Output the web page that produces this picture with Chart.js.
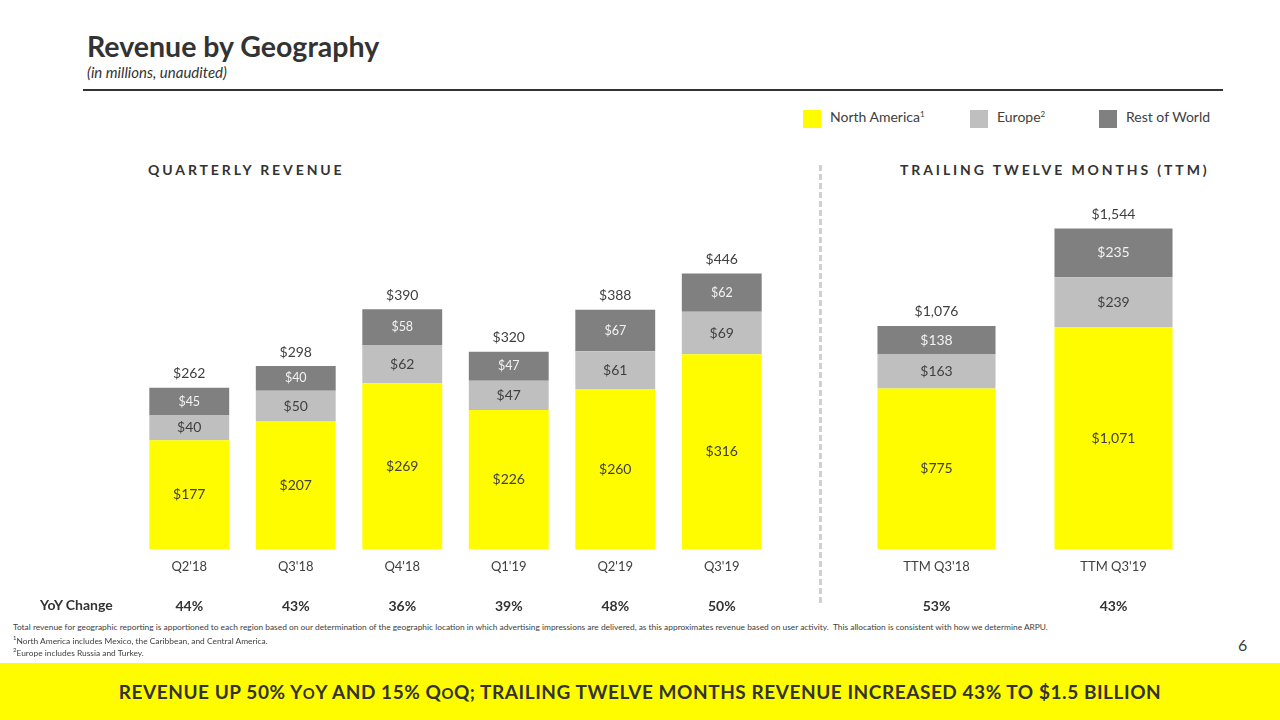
<!DOCTYPE html>
<html>
<head>
<meta charset="utf-8">
<script src="https://cdn.jsdelivr.net/npm/chart.js@4.4.0/dist/chart.umd.min.js"></script>
<style>
  body { margin: 0; width: 1280px; height: 720px; position: relative; overflow: hidden; background: #fff; font-family: Lato, "Noto Sans", sans-serif; color: #404040; }
  .abs { position: absolute; }
  #title { left: 87px; top: 29px; font-size: 28.5px; font-weight: bold; color: #333; }
  #subtitle { left: 87px; top: 63px; font-size: 15px; font-style: italic; color: #333; }
  #rule { left: 83px; top: 89px; width: 1140px; height: 2px; background: #333; }
  .sw { width: 18px; height: 18px; top: 110px; }
  .lg { top: 108px; font-size: 14px; line-height: 18px; color: #404040; }
  .lg sup { font-size: 8px; vertical-align: 5px; line-height: 0; }
  .hdr { top: 161px; font-size: 14px; font-weight: bold; letter-spacing: 2.9px; color: #333; }
  #divider { left: 819px; top: 165px; height: 438px; border-left: 3px dashed #d0d0d0; }
  #yoy { left: 40px; top: 596px; font-size: 14px; font-weight: bold; color: #333; }
  .fn { left: 13px; font-size: 8.4px; color: #404040; }
  .fn sup { font-size: 6px; }
  #page { left: 1238px; top: 635px; font-size: 16px; color: #404040; }
  #banner { left: 0; top: 663px; width: 1280px; height: 57px; background: #FFFC00; }
  #banner div { text-align: center; font-size: 19px; font-weight: bold; color: #333; line-height: 57px; letter-spacing: 0.55px; }
  .sc { font-size: 0.78em; }
  canvas { position: absolute; }
</style>
</head>
<body>
<div id="title" class="abs">Revenue by Geography</div>
<div id="subtitle" class="abs">(in millions, unaudited)</div>
<div id="rule" class="abs"></div>

<div class="abs sw" style="left:803px;background:#FFFC00"></div>
<div class="abs lg" style="left:830px">North America<sup>1</sup></div>
<div class="abs sw" style="left:970px;background:#BFBFBF"></div>
<div class="abs lg" style="left:997px">Europe<sup>2</sup></div>
<div class="abs sw" style="left:1099px;background:#808080"></div>
<div class="abs lg" style="left:1126px">Rest of World</div>

<div class="abs hdr" style="left:148px">QUARTERLY REVENUE</div>
<div class="abs hdr" style="left:900px">TRAILING TWELVE MONTHS (TTM)</div>
<div id="divider" class="abs"></div>

<div style="position:absolute;left:0;top:190px;width:800px;height:430px"><canvas id="quarterChart"></canvas></div>
<div style="position:absolute;left:830px;top:190px;width:450px;height:430px"><canvas id="ttmChart"></canvas></div>

<div id="yoy" class="abs">YoY Change</div>

<div class="abs fn" style="top:622px">Total revenue for geographic reporting is apportioned to each region based on our determination of the geographic location in which advertising impressions are delivered, as this approximates revenue based on user activity.&nbsp; This allocation is consistent with how we determine ARPU.</div>
<div class="abs fn" style="top:634px"><sup>1</sup>North America includes Mexico, the Caribbean, and Central America.</div>
<div class="abs fn" style="top:646px"><sup>2</sup>Europe includes Russia and Turkey.</div>
<div id="page" class="abs">6</div>

<div id="banner" class="abs"><div>REVENUE UP 50% Y<span class="sc">O</span>Y AND 15% Q<span class="sc">O</span>Q; TRAILING TWELVE MONTHS REVENUE INCREASED 43% TO $1.5 BILLION</div></div>

<script>
// Quarterly data
const quarters = ["Q2'18", "Q3'18", "Q4'18", "Q1'19", "Q2'19", "Q3'19"];
const naQuarter = [177, 207, 269, 226, 260, 316];
const euQuarter = [40, 50, 62, 47, 61, 69];
const rowQuarter = [45, 40, 58, 47, 67, 62];
const totalQuarter = [262, 298, 390, 320, 388, 446];
const yoyQuarter = ['44%', '43%', '36%', '39%', '48%', '50%'];

// TTM data
const ttmPeriods = ["TTM Q3'18", "TTM Q3'19"];
const naTTM = [775, 1071];
const euTTM = [163, 239];
const rowTTM = [138, 235];
const totalTTM = [1076, 1544];
const yoyTTM = ['53%', '43%'];

const FONT = 'Lato, "Noto Sans", sans-serif';
const YELLOW = '#FFFC00';
const LIGHT = '#BFBFBF';
const DARK = '#808080';

function money(v) {
    return '$' + v.toLocaleString('en-US');
}

// draws segment values, totals and the YoY row
const barLabels = {
    id: 'barLabels',
    afterDatasetsDraw(chart, args, opts) {
        const ctx = chart.ctx;
        ctx.save();
        ctx.textAlign = 'center';
        ctx.textBaseline = 'middle';
        chart.data.datasets.forEach((ds, i) => {
            const meta = chart.getDatasetMeta(i);
            meta.data.forEach((bar, j) => {
                ctx.fillStyle = ds.labelColor;
                ctx.font = ds.labelSize + 'px ' + FONT;
                ctx.fillText(money(ds.data[j]), bar.x, (bar.y + bar.base) / 2);
            });
        });
        const top = chart.getDatasetMeta(chart.data.datasets.length - 1);
        top.data.forEach((bar, j) => {
            ctx.fillStyle = '#404040';
            ctx.font = '14px ' + FONT;
            ctx.fillText(money(opts.totals[j]), bar.x, bar.y - 14);
            ctx.fillStyle = '#333';
            ctx.font = 'bold 14px ' + FONT;
            ctx.fillText(opts.yoy[j], bar.x, chart.chartArea.bottom + 57);
        });
        ctx.restore();
    }
};

function makeChart(id, labels, na, eu, row, totals, yoy, max, barPct, pad, rowSize) {
    const ctx = document.getElementById(id).getContext('2d');
    return new Chart(ctx, {
        type: 'bar',
        data: {
            labels: labels,
            datasets: [
                { label: 'North America', data: na, backgroundColor: YELLOW, labelColor: '#404040', labelSize: 14 },
                { label: 'Europe', data: eu, backgroundColor: LIGHT, labelColor: '#404040', labelSize: 14 },
                { label: 'Rest of World', data: row, backgroundColor: DARK, labelColor: '#f2f2f2', labelSize: rowSize }
            ]
        },
        options: {
            responsive: true,
            maintainAspectRatio: false,
            animation: false,
            layout: { padding: pad },
            datasets: { bar: { barPercentage: barPct, categoryPercentage: 1, borderWidth: 0 } },
            plugins: {
                legend: { display: false },
                tooltip: { enabled: false },
                barLabels: { totals: totals, yoy: yoy }
            },
            scales: {
                x: {
                    stacked: true,
                    grid: { display: false, drawTicks: false },
                    border: { display: false },
                    ticks: { color: '#404040', font: { family: FONT, size: 13 }, padding: 10 }
                },
                y: {
                    stacked: true,
                    display: false,
                    min: 0,
                    max: max
                }
            }
        },
        plugins: [barLabels]
    });
}

makeChart('quarterChart', quarters, naQuarter, euQuarter, rowQuarter, totalQuarter, yoyQuarter,
    553, 0.75, { left: 136, right: 25, top: 18, bottom: 35 }, 12.5);
makeChart('ttmChart', ttmPeriods, naTTM, euTTM, rowTTM, totalTTM, yoyTTM,
    1644, 0.667, { left: 18, right: 78, top: 18, bottom: 35 }, 14);
</script>
</body>
</html>
